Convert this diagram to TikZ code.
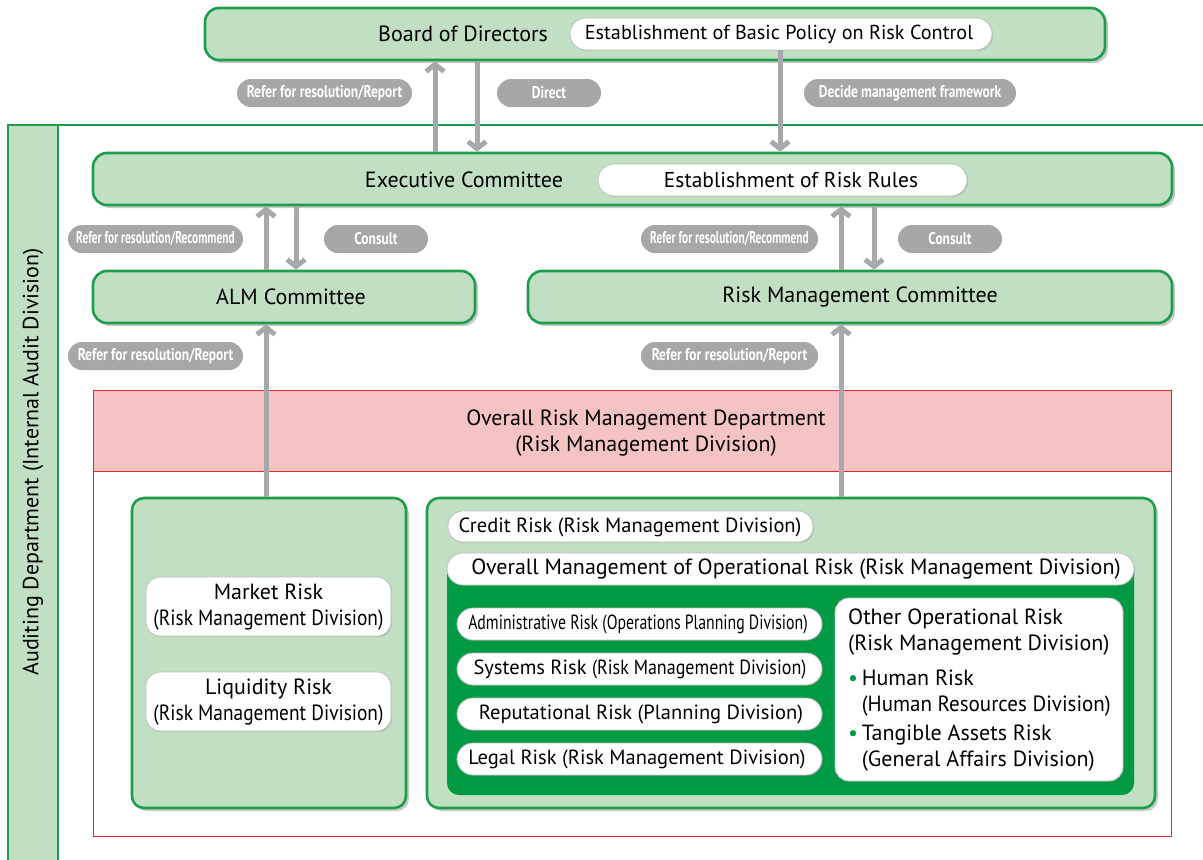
\documentclass[tikz,border=0pt]{standalone}
\usepackage{fontspec}
\setmainfont{PT Sans}
\newfontfamily\tagfont[FakeStretch=0.79]{PT Sans Bold}
\newfontfamily\tagfontn[FakeStretch=0.67]{PT Sans Bold}
\newfontfamily\narrowfont[FakeStretch=0.88]{PT Sans}
\newfontfamily\condfont[FakeStretch=0.77]{PT Sans}
\newfontfamily\slimfont[FakeStretch=0.955]{PT Sans}
\usetikzlibrary{arrows.meta,shadows,calc}

\definecolor{lgrn}{HTML}{C1DFC3}
\definecolor{grn}{HTML}{1E9E4C}
\definecolor{dgrn}{HTML}{009944}
\definecolor{arrg}{HTML}{A7A8AA}
\definecolor{tagg}{HTML}{A6A7A9}
\definecolor{pink}{HTML}{F6C3C5}
\definecolor{red}{HTML}{E8252B}

\tikzset{
  gbox/.style={draw=grn, line width=2.6pt, fill=lgrn, rounded corners=14pt,
    drop shadow={shadow xshift=3pt, shadow yshift=-3pt, opacity=0.35, fill=black!60},
    inner sep=0pt},
  wpill/.style={draw=black!25, line width=0.8pt, fill=white, inner sep=0pt,
    drop shadow={shadow xshift=1.2pt, shadow yshift=-1.2pt, opacity=0.25}},
  tag/.style={fill=tagg, rounded corners=14pt, text=white, font=\tagfont\fontsize{17}{19}\selectfont,
    minimum height=28pt, inner sep=0pt},
  tagn/.style={tag, font=\tagfontn\fontsize{17}{19}\selectfont},
  arr/.style={draw=arrg, line width=5pt, -{Straight Barb[length=7pt,width=18pt,line width=5pt]}},
  txt/.style={font=\fontsize{22}{25.5}\selectfont, inner sep=0pt},
  stxt/.style={font=\fontsize{20.5}{24.5}\selectfont, inner sep=0pt},
}

\begin{document}
\begin{tikzpicture}[x=1pt, y=-1pt]
\useasboundingbox (0,0) rectangle (1203,860);
\fill[white] (0,0) rectangle (1203,860);

% auditing department frame
\fill[lgrn] (8,125) rectangle (58,860);
\draw[grn, line width=1.2pt] (8,860) -- (8,125) -- (1203,125);
\draw[grn, line width=1.2pt] (58,125) -- (58,860);
\node[rotate=90, txt] (audit) at (33,462) {Auditing Department (Internal Audit Division)};

% Board of Directors
\node[gbox, minimum width=900pt, minimum height=52pt] (board) at (655,34) {};
\node[txt] (boardt) at (463,34) {Board of Directors};
\node[wpill, rounded corners=16pt, minimum width=422pt, minimum height=32pt] (policy) at (781,34) {};
\node[txt, font=\fontsize{20.2}{24}\selectfont] (policyt) at (779,34) {Establishment of Basic Policy on Risk Control};

% Executive Committee
\node[gbox, minimum width=1079pt, minimum height=52pt] (exec) at (632.5,179) {};
\node[txt] (exect) at (464,180) {Executive Committee};
\node[wpill, rounded corners=16pt, minimum width=369pt, minimum height=32pt] (rules) at (782.5,180) {};
\node[txt, font=\fontsize{21.5}{24}\selectfont] (rulest) at (791,180) {Establishment of Risk Rules};

% committees
\node[gbox, minimum width=382pt, minimum height=52pt] (alm) at (284,297) {};
\node[txt] (almt) at (291,297) {ALM Committee};
\node[gbox, minimum width=644pt, minimum height=52pt] (rmc) at (850,297) {};
\node[txt] (rmct) at (860,297) {Risk Management Committee};

% overall risk management department
\draw[red, line width=1pt] (93,390) rectangle (1171,836);
\filldraw[fill=pink, draw=red, line width=1pt] (93,390) rectangle (1171,471);
\node[txt, align=center] (overall) at (646,433) {Overall Risk Management Department\\(Risk Management Division)};

% market-side risks
\node[gbox, rounded corners=12pt, minimum width=274pt, minimum height=310pt] (left) at (269,653) {};
\node[wpill, rounded corners=14pt, minimum width=245pt, minimum height=59pt] (market) at (268.5,606.5) {};
\node[txt, align=center] (markett) at (268.5,607) {Market Risk\\{\narrowfont (Risk Management Division)}};
\node[wpill, rounded corners=14pt, minimum width=245pt, minimum height=59pt] (liquid) at (268.5,701.5) {};
\node[txt, align=center] (liquidt) at (268.5,702) {Liquidity Risk\\{\narrowfont (Risk Management Division)}};

% credit and operational risks
\node[gbox, rounded corners=12pt, minimum width=728pt, minimum height=310pt] (right) at (791,653) {};
\node[wpill, rounded corners=15pt, minimum width=365pt, minimum height=31pt] (credit) at (630.5,526.5) {};
\node[stxt] (creditt) at (630,527) {Credit Risk (Risk Management Division)};
\fill[dgrn, rounded corners=12pt] (447,560) rectangle (1134,795);
\node[wpill, rounded corners=16pt, minimum width=687pt, minimum height=32pt] (opall) at (790.5,569) {};
\node[txt] (opallt) at (796,569.5) {Overall Management of Operational Risk (Risk Management Division)};

\tikzset{ipill/.style={wpill, rounded corners=16pt, minimum width=365pt, minimum height=32pt}}
\node[ipill] (admin) at (639.5,624) {};
\node[stxt] (admint) at (638,624.5) {\condfont Administrative Risk (Operations Planning Division)};
\node[ipill] (systems) at (639.5,669) {};
\node[stxt] (systemst) at (640,669.5) {Systems Risk {\narrowfont (Risk Management Division)}};
\node[ipill] (reput) at (639.5,714) {};
\node[stxt] (reputt) at (641,714.5) {Reputational Risk (Planning Division)};
\node[ipill] (legal) at (639.5,759) {};
\node[stxt] (legalt) at (637,759.5) {Legal Risk (Risk Management Division)};

\node[wpill, rounded corners=14pt, minimum width=288pt, minimum height=183pt] (other) at (979,689.5) {};
\node[txt, align=left, anchor=north west] (othert) at (848,609) {%
Other Operational Risk\\
(Risk Management Division)\\[10pt]
\textcolor{dgrn}{•}\,Human Risk\\
\hphantom{•\,}{\slimfont (Human Resources Division)}\\[4pt]
\textcolor{dgrn}{•}\,Tangible Assets Risk\\
\hphantom{•\,}(General Affairs Division)};

% arrow positions
\coordinate (xa) at (435,0);
\coordinate (xb) at (477,0);
\coordinate (xc) at (780,0);
\coordinate (xd) at (266,0);
\coordinate (xe) at (296,0);
\coordinate (xf) at (841,0);
\coordinate (xg) at (874,0);

\draw[arr] (exec.north -| xa) -- (board.south -| xa);
\draw[arr] (board.south -| xb) -- (exec.north -| xb);
\draw[arr] (policy.south -| xc) -- (exec.north -| xc);
\draw[arr] (alm.north -| xd) -- (exec.south -| xd);
\draw[arr] (exec.south -| xe) -- (alm.north -| xe);
\draw[arr] (rmc.north -| xf) -- (exec.south -| xf);
\draw[arr] (exec.south -| xg) -- (rmc.north -| xg);
\draw[arr] (left.north -| xd) -- (alm.south -| xd);
\draw[arr] (right.north -| xf) -- (rmc.south -| xf);

% arrow labels
\node[tag, minimum width=175pt] (l1) at (324.5,93) {Refer for resolution/Report};
\node[tag, minimum width=104pt] (l2) at (549,93) {Direct};
\node[tag, minimum width=212pt] (l3) at (910,93) {Decide management framework};
\node[tagn, minimum width=175pt] (l4) at (155.5,239) {Refer for resolution/Recommend};
\node[tag, minimum width=104pt] (l5) at (376,239) {Consult};
\node[tagn, minimum width=177pt] (l6) at (729.5,239) {Refer for resolution/Recommend};
\node[tag, minimum width=104pt] (l7) at (950,239) {Consult};
\node[tag, minimum width=175pt] (l8) at (155.5,356) {Refer for resolution/Report};
\node[tag, minimum width=177pt] (l9) at (729.5,356) {Refer for resolution/Report};
\end{tikzpicture}
\end{document}
